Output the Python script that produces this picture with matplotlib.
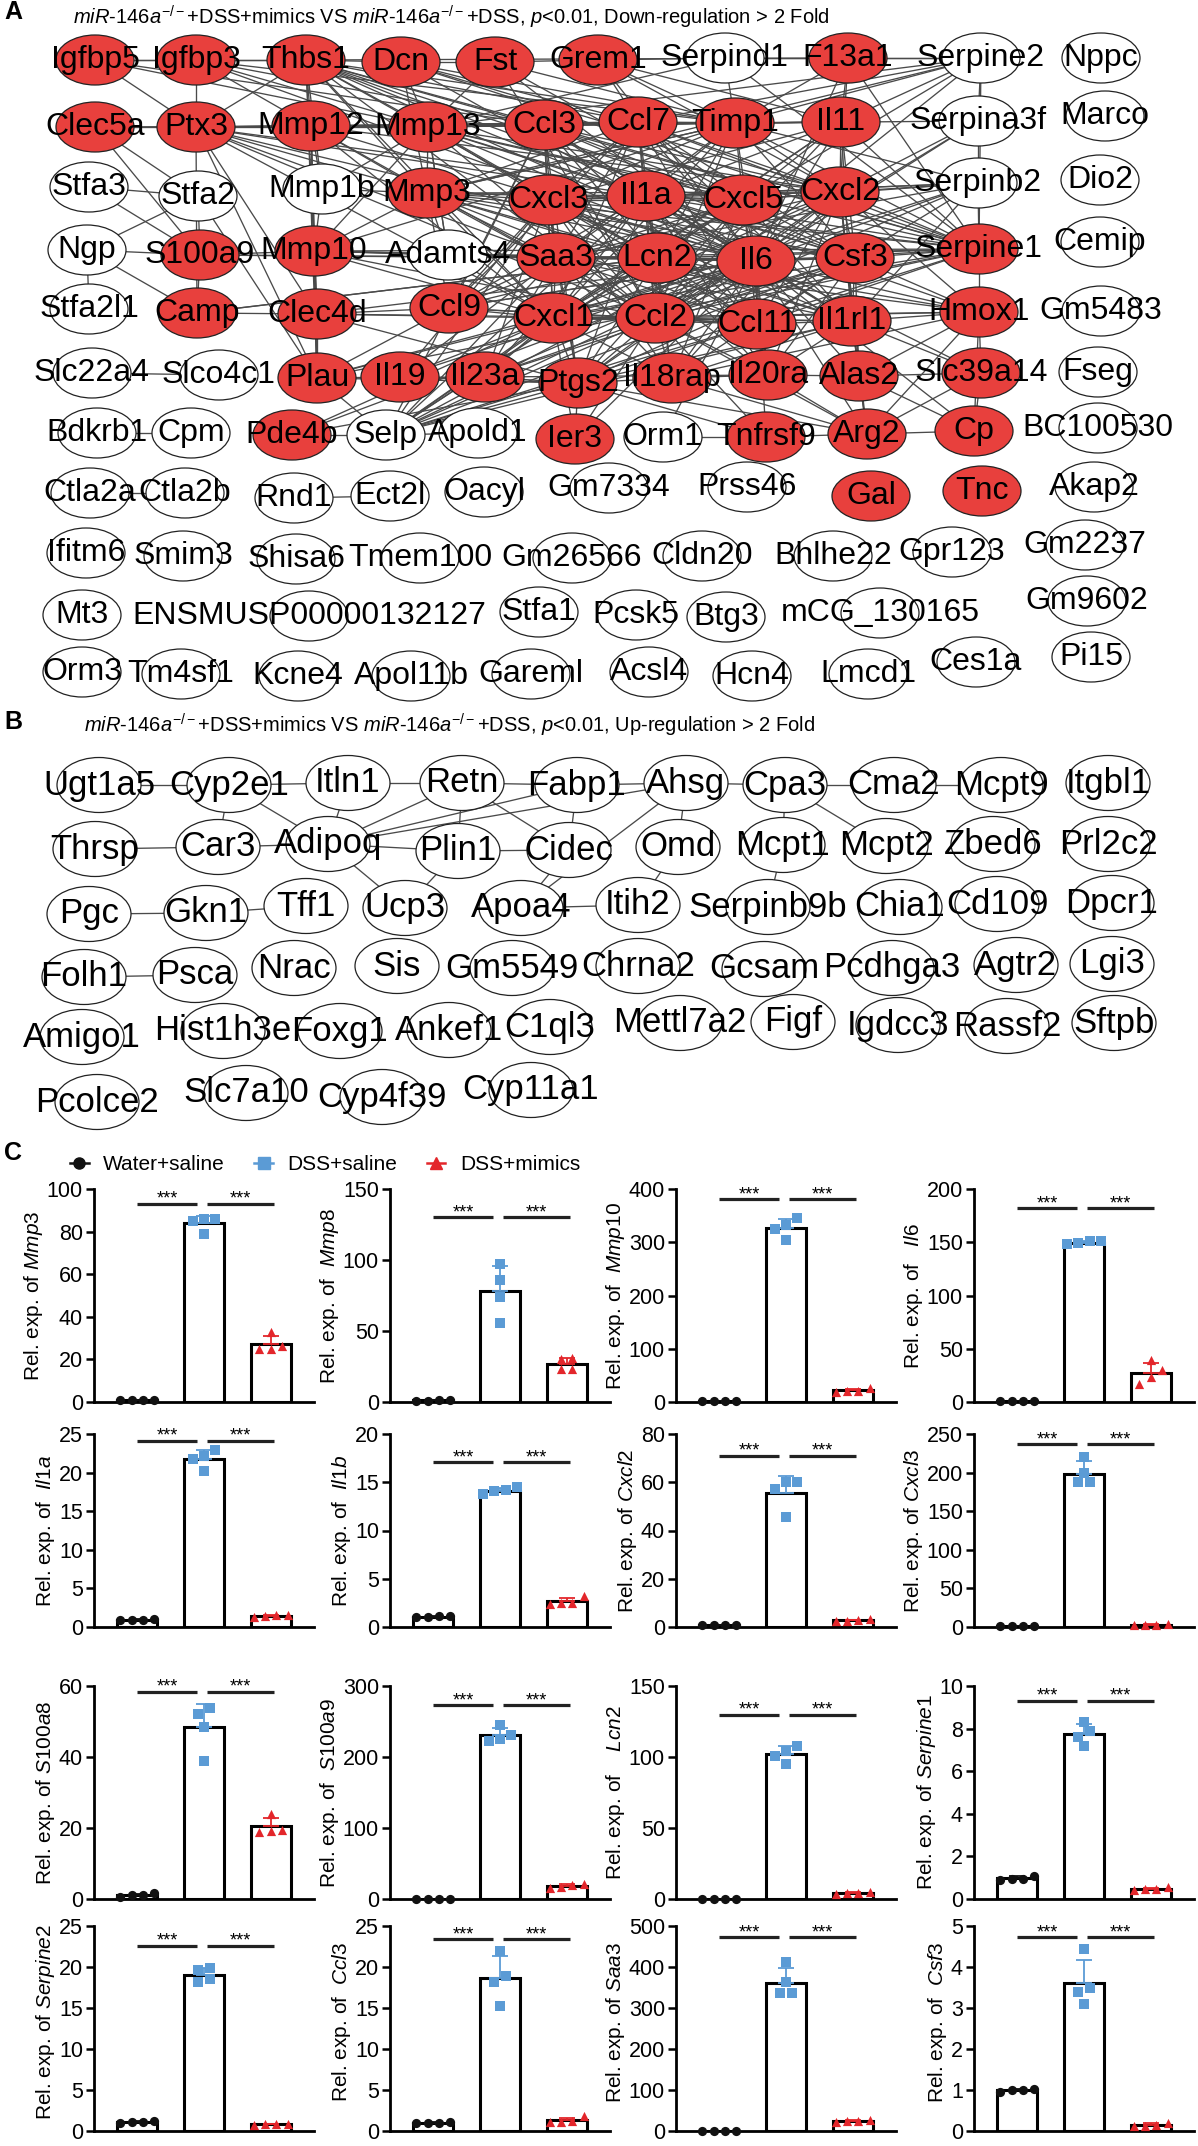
import numpy as np
import matplotlib
matplotlib.use('Agg')
import matplotlib.pyplot as plt
from matplotlib.patches import Ellipse
from matplotlib.lines import Line2D
from matplotlib.collections import LineCollection

plt.rcParams['font.family'] = ['Liberation Sans', 'DejaVu Sans']
plt.rcParams['mathtext.fontset'] = 'custom'
plt.rcParams['mathtext.rm'] = 'Liberation Sans'
plt.rcParams['mathtext.it'] = 'Liberation Sans:italic'
plt.rcParams['mathtext.bf'] = 'Liberation Sans:bold'

W, H = 1198, 2146

# ---------------- panel A network (Cytoscape layout, pixel coords) ----------------
nodes_a = [
    ('Igfbp5', 95, 60), ('Igfbp3', 196, 60), ('Thbs1', 306, 60), ('Dcn', 401, 62), ('Fst', 495, 62),
    ('Grem1', 598, 60), ('Serpind1', 725, 58), ('F13a1', 848, 58), ('Serpine2', 981, 58), ('Nppc', 1101, 58),
    ('Clec5a', 95, 127), ('Ptx3', 196, 127), ('Mmp12', 311, 126), ('Mmp13', 428, 127), ('Ccl3', 544, 125),
    ('Ccl7', 638, 122), ('Timp1', 735, 123), ('Il11', 841, 122), ('Serpina3f', 978, 121), ('Marco', 1105, 116),
    ('Stfa3', 89, 187), ('Stfa2', 198, 196), ('Mmp1b', 322, 189), ('Mmp3', 427, 193), ('Cxcl3', 548, 200),
    ('Il1a', 646, 196), ('Cxcl5', 743, 200), ('Cxcl2', 840, 192), ('Serpinb2', 978, 183), ('Dio2', 1100, 180),
    ('Ngp', 87, 250), ('S100a9', 200, 255), ('Mmp10', 314, 251), ('Adamts4', 448, 255), ('Saa3', 556, 258),
    ('Lcn2', 657, 258), ('Il6', 756, 261), ('Csf3', 855, 258), ('Serpine1', 979, 249), ('Cemip', 1100, 242),
    ('Stfa2l1', 89, 309), ('Camp', 197, 313), ('Clec4d', 317, 314), ('Ccl9', 449, 308), ('Cxcl1', 553, 318),
    ('Ccl2', 655, 318), ('Ccl11', 757, 324), ('Il1rl1', 852, 321), ('Hmox1', 979, 312), ('Gm5483', 1101, 311),
    ('Slc22a4', 92, 373), ('Slco4c1', 219, 375), ('Plau', 317, 378), ('Il19', 400, 377), ('Il23a', 485, 377),
    ('Ptgs2', 578, 383), ('Il18rap', 672, 378), ('Il20ra', 768, 375), ('Alas2', 859, 376), ('Slc39a14', 981, 373),
    ('Fseg', 1098, 372),
    ('Bdkrb1', 97, 433), ('Cpm', 191, 433), ('Pde4b', 292, 435), ('Selp', 386, 435), ('Apold1', 478, 433),
    ('Ier3', 575, 439), ('Orm1', 663, 437), ('Tnfrsf9', 766, 437), ('Arg2', 867, 434), ('Cp', 974, 431),
    ('BC100530', 1098, 428),
    ('Ctla2a', 90, 493), ('Ctla2b', 185, 493), ('Rnd1', 294, 498), ('Ect2l', 390, 496), ('Oacyl', 484, 492),
    ('Gm7334', 609, 488), ('Prss46', 747, 487), ('Gal', 871, 496), ('Tnc', 982, 491), ('Akap2', 1094, 487),
    ('Ifitm6', 86, 553), ('Smim3', 183, 556), ('Shisa6', 296, 559), ('Tmem100', 420, 558), ('Gm26566', 572, 558),
    ('Cldn20', 702, 556), ('Bhlhe22', 833, 556), ('Gpr123', 952, 552), ('Gm2237', 1085, 545),
    ('Mt3', 82, 615), ('ENSMUSP00000132127', 309, 616), ('Stfa1', 539, 612), ('Pcsk5', 636, 615),
    ('Btg3', 726, 617), ('mCG_130165', 880, 613), ('Gm9602', 1087, 601),
    ('Orm3', 82, 672), ('Tm4sf1', 181, 674), ('Kcne4', 298, 676), ('Apol11b', 411, 676), ('Gareml', 531, 674),
    ('Acsl4', 649, 672), ('Hcn4', 752, 676), ('Lmcd1', 868, 674), ('Ces1a', 976, 662), ('Pi15', 1091, 657),
]

red_a = ['Igfbp5', 'Igfbp3', 'Thbs1', 'Dcn', 'Fst', 'Grem1', 'F13a1', 'Clec5a', 'Ptx3', 'Mmp12', 'Mmp13',
         'Ccl3', 'Ccl7', 'Timp1', 'Il11', 'Mmp3', 'Cxcl3', 'Il1a', 'Cxcl5', 'Cxcl2', 'S100a9', 'Mmp10',
         'Saa3', 'Lcn2', 'Il6', 'Csf3', 'Serpine1', 'Camp', 'Clec4d', 'Ccl9', 'Cxcl1', 'Ccl2', 'Ccl11',
         'Il1rl1', 'Hmox1', 'Plau', 'Il19', 'Il23a', 'Ptgs2', 'Il18rap', 'Il20ra', 'Alas2', 'Slc39a14',
         'Pde4b', 'Ier3', 'Tnfrsf9', 'Arg2', 'Cp', 'Gal', 'Tnc']

edges_a_txt = """
Igfbp5: Igfbp3 Thbs1 Mmp13 Ptx3 Ccl3
Igfbp3: Thbs1 Ptx3 Mmp13 Ccl3 Il6 Mmp12 Timp1
Thbs1: Dcn Mmp12 Mmp13 Ptx3 Mmp3 Ccl7 Il6 Serpine1 Timp1 Plau Mmp10 Ccl2 Cxcl1 Ccl3 Mmp1b Csf3 Il1a Cxcl5 F13a1 Lcn2
Dcn: Fst Mmp13 Timp1 Serpine1 Il6 Ccl7 Cxcl2 Mmp3
Fst: Grem1 Il6 Mmp13 Timp1 Ccl2 Cxcl5
Grem1: Serpind1 Timp1 Il6 Ccl7 Il11 Cxcl2
Serpind1: F13a1 Timp1 Mmp13 Serpine2 Serpine1
F13a1: Serpine2 Serpine1 Il6 Timp1 Il11 Cxcl2
Serpine2: Serpina3f Timp1 Il11 Mmp13 Ccl7 Serpine1 Mmp3 Cxcl5 Ccl2
Serpina3f: Serpinb2 Timp1 Il6 Cxcl2 Ccl2
Serpinb2: Serpine1 Cxcl2 Il1a Il6 Cxcl5 Ccl2 Csf3 Cxcl1 Il1rl1 Timp1 Cxcl3 Saa3
Serpine1: Hmox1 Il6 Csf3 Ccl2 Timp1 Mmp3 Plau Cxcl1 Cxcl2 Lcn2 Il1a Ccl7 Mmp10 Mmp13 Il11 Ccl11 Saa3 Selp Cxcl3 Ccl3
Hmox1: Slc39a14 Il6 Ccl2 Il1rl1 Cxcl2 Csf3 Cp Arg2 Lcn2 Alas2 Cxcl1 Il18rap Saa3 Il1a
Slc39a14: Il6 Cp Alas2 Arg2 Il1rl1
Clec5a: Ptx3 Stfa2 Mmp12 S100a9
Ptx3: Mmp12 Il6 Ccl2 Clec4d Cxcl1 Timp1 Mmp13 Ccl7 Ccl3 Cxcl5 Mmp3 Camp Il1a Saa3 Plau
Mmp12: Mmp13 Mmp10 Mmp3 Mmp1b Ccl7 Timp1 Ccl2 Il6 Cxcl1 Ccl3 Cxcl2 Clec4d Plau
Mmp13: Ccl3 Ccl7 Mmp3 Mmp10 Timp1 Il6 Il1a Cxcl5 Cxcl2 Ccl2 Mmp1b Adamts4 Cxcl3 Lcn2 Il11 Csf3
Ccl3: Ccl7 Cxcl3 Il1a Cxcl5 Cxcl2 Ccl2 Il6 Csf3 Cxcl1 Ccl9 Ccl11 Saa3 Lcn2 Timp1 Il11 Il1rl1 Ptgs2
Ccl7: Timp1 Cxcl3 Il1a Cxcl5 Cxcl2 Ccl2 Il6 Csf3 Cxcl1 Ccl11 Saa3 Lcn2 Mmp3 Ccl9 Il11 Il1rl1
Timp1: Il11 Il1a Cxcl5 Cxcl2 Il6 Csf3 Mmp3 Ccl2 Lcn2 Cxcl3 Mmp10 Saa3 Cxcl1
Il11: Cxcl2 Il6 Csf3 Il1a Cxcl5 Ccl2 Il1rl1 Cxcl1 Cxcl3
Stfa3: Stfa2 S100a9
Stfa2: Ngp S100a9 Plau
Mmp1b: Mmp10 Mmp3
Mmp3: Mmp10 Cxcl3 Il1a Cxcl5 Il6 Ccl2 Saa3 Lcn2 Adamts4 Cxcl1 Timp1 Csf3 Cxcl2 Ccl9 Ccl11 Il1rl1
Cxcl3: Il1a Cxcl5 Cxcl2 Saa3 Lcn2 Il6 Csf3 Cxcl1 Ccl2 Ccl11 Ccl9 Il1rl1 Ptgs2 Il23a Il19 Il18rap Il20ra
Il1a: Cxcl5 Cxcl2 Lcn2 Il6 Csf3 Cxcl1 Ccl2 Ccl11 Il1rl1 Saa3 Ptgs2 Il18rap Il23a Il20ra Ccl9
Cxcl5: Cxcl2 Lcn2 Il6 Csf3 Cxcl1 Ccl2 Ccl11 Il1rl1 Saa3 Ptgs2 Il20ra Il18rap Ccl9
Cxcl2: Csf3 Il6 Lcn2 Cxcl1 Ccl2 Ccl11 Il1rl1 Saa3 Ptgs2 Il18rap Alas2 Arg2 Il20ra
Ngp: S100a9 Stfa2l1 Camp
S100a9: Mmp10 Camp Lcn2 Saa3
Mmp10: Adamts4 Saa3 Clec4d Lcn2 Il6 Plau Cxcl1 Ccl2
Adamts4: Saa3 Il6 Cxcl1 Mmp13
Saa3: Lcn2 Il6 Csf3 Cxcl1 Ccl2 Ccl11 Ccl9 Il1rl1 Ptgs2 Il19 Il23a Il18rap
Lcn2: Il6 Csf3 Cxcl1 Ccl2 Ccl11 Il1rl1 Ptgs2 Il18rap Il20ra Camp Ccl9
Il6: Csf3 Cxcl1 Ccl2 Ccl11 Il1rl1 Ptgs2 Il18rap Il20ra Alas2 Il19 Il23a Ier3 Tnfrsf9 Orm1 Arg2 Selp Plau Cp Ccl9
Csf3: Cxcl1 Ccl2 Ccl11 Il1rl1 Ptgs2 Il20ra Il23a Selp Il18rap Alas2
Camp: Clec4d Lcn2
Clec4d: Ccl9 Plau Cxcl1 Ccl2 Il6 Ptgs2
Ccl9: Cxcl1 Ccl2 Ccl11 Il6 Plau
Cxcl1: Ccl2 Ccl11 Il1rl1 Ptgs2 Il18rap Il19 Il23a Selp Plau Ier3
Ccl2: Ccl11 Il1rl1 Ptgs2 Il18rap Il20ra Selp Il23a Tnfrsf9 Ier3 Arg2
Ccl11: Il1rl1 Ptgs2 Selp Il20ra
Il1rl1: Ptgs2 Il18rap Il20ra Alas2 Arg2
Slc22a4: Slco4c1
Plau: Il19 Selp Ptgs2 Il23a
Il19: Il23a Ptgs2
Il23a: Ptgs2 Il20ra
Ptgs2: Il18rap Ier3 Pde4b Selp Tnfrsf9 Arg2
Il18rap: Il20ra Arg2
Il20ra: Alas2 Arg2
Alas2: Arg2 Cp
Pde4b: Selp Il6 Cxcl1
Selp: Apold1 Cxcl2 Il1a Cxcl5 Lcn2 Saa3 Cxcl3 Il11 Il1rl1 Ccl3
Orm1: Tnfrsf9
Tnfrsf9: Arg2
Arg2: Cp
Bdkrb1: Cpm
Ctla2a: Ctla2b
Rnd1: Ect2l
"""

# ---------------- panel B network ----------------
nodes_b = [
    ('Ugt1a5', 99, 785), ('Cyp2e1', 229, 785), ('Itln1', 348, 783), ('Retn', 462, 783), ('Fabp1', 577, 785),
    ('Ahsg', 686, 783), ('Cpa3', 785, 785), ('Cma2', 894, 785), ('Mcpt9', 1001, 785), ('Itgbl1', 1108, 783),
    ('Thrsp', 95, 849), ('Car3', 218, 847), ('Adipoq', 328, 844), ('Plin1', 458, 851), ('Cidec', 569, 850),
    ('Omd', 678, 847), ('Mcpt1', 783, 845), ('Mcpt2', 886, 846), ('Zbed6', 993, 844), ('Prl2c2', 1108, 844),
    ('Pgc', 89, 914), ('Gkn1', 206, 913), ('Tff1', 306, 906), ('Ucp3', 405, 908), ('Apoa4', 521, 908),
    ('Itih2', 638, 905), ('Serpinb9b', 768, 907), ('Chia1', 900, 907), ('Cd109', 997, 904), ('Dpcr1', 1112, 903),
    ('Folh1', 84, 977), ('Psca', 195, 975), ('Nrac', 294, 968), ('Sis', 397, 966), ('Gm5549', 512, 968),
    ('Chrna2', 638, 966), ('Gcsam', 764, 969), ('Pcdhga3', 892, 968), ('Agtr2', 1016, 965), ('Lgi3', 1112, 964),
    ('Amigo1', 82, 1037), ('Hist1h3e', 223, 1031), ('Foxg1', 340, 1031), ('Ankef1', 449, 1030), ('C1ql3', 550, 1027),
    ('Mettl7a2', 680, 1023), ('Figf', 793, 1022), ('Igdcc3', 898, 1025), ('Rassf2', 1007, 1026), ('Sftpb', 1114, 1023),
    ('Pcolce2', 97, 1102), ('Slc7a10', 246, 1093), ('Cyp4f39', 382, 1097), ('Cyp11a1', 531, 1090),
]

edges_b_txt = """
Ugt1a5: Cyp2e1
Cyp2e1: Itln1 Car3 Adipoq
Itln1: Retn Adipoq
Retn: Fabp1 Adipoq Plin1 Cidec
Fabp1: Ahsg Adipoq Cidec
Ahsg: Cpa3 Adipoq Omd Apoa4
Cpa3: Cma2 Mcpt1 Mcpt2
Cma2: Mcpt9
Thrsp: Car3
Car3: Adipoq
Adipoq: Plin1 Ucp3
Plin1: Cidec Ucp3
Cidec: Apoa4
Omd: Itih2
Mcpt1: Serpinb9b
Pgc: Gkn1
Gkn1: Tff1
Apoa4: Itih2
Folh1: Psca
"""

# ---------------- panel C qPCR data ----------------
genes = ['Mmp3', 'Mmp8', 'Mmp10', 'Il6', 'Il1a', 'Il1b', 'Cxcl2', 'Cxcl3',
         'S100a8', 'S100a9', 'Lcn2', 'Serpine1', 'Serpine2', 'Ccl3', 'Saa3', 'Csf3']
label_gap = [1, 2, 2, 3, 2, 2, 1, 1, 1, 2, 4, 1, 1, 2, 1, 2]
ymax = [100, 150, 400, 200, 25, 20, 80, 250, 60, 300, 150, 10, 25, 25, 500, 5]
ystep = [20, 50, 100, 50, 5, 5, 20, 50, 20, 100, 50, 2, 5, 5, 100, 1]

water = [[0.8, 1.0, 1.1, 1.0], [1.0, 1.5, 1.5, 1.0], [1, 1, 1, 1], [1, 1, 1, 1],
         [0.9, 0.9, 1.0, 0.9], [1.0, 1.1, 1.1, 1.0], [0.7, 0.8, 0.8, 0.7], [0.8, 0.9, 0.8, 0.8],
         [0.5, 1.0, 1.6, 1.0], [0.6, 0.7, 0.6, 0.6], [0.2, 0.3, 0.3, 0.2], [1.1, 0.95, 0.9, 0.95],
         [1.1, 1.2, 1.1, 1.0], [1.0, 1.1, 1.0, 1.0], [1, 1, 1, 1], [1.0, 1.0, 0.95, 1.02]]
saline = [[86, 86, 85, 79], [97.3, 85.7, 73.7, 55.6], [346, 332, 324, 305], [148, 151, 149, 151],
          [22.2, 22.9, 21.7, 20.2], [13.75, 14.5, 14.1, 14.2], [60, 57.2, 60, 45.7], [220.7, 199.2, 187.5, 187.5],
          [53.8, 52, 48.5, 39], [245, 231, 223, 225], [108, 104, 101, 95], [8.3, 7.9, 7.6, 7.2],
          [19.9, 19.6, 18.5, 18.2], [22, 18.9, 18.2, 15.3], [411, 364, 336, 336], [4.43, 3.5, 3.4, 3.1]]
mimics = [[25, 33, 26.5, 25], [30, 31, 23, 23.5], [20, 27, 19, 21], [30, 39, 16.5, 23.5],
          [1.3, 1.6, 1.5, 1.4], [2.4, 3.2, 2.5, 2.5], [2.6, 3.2, 2.8, 2.5], [3.0, 3.5, 2.5, 3.0],
          [24, 19.5, 19, 19.2], [21, 17, 15, 20], [4.5, 5, 3.5, 4], [0.56, 0.45, 0.4, 0.45],
          [0.8, 0.9, 0.7, 0.8], [1.2, 1.8, 1.1, 1.1], [25, 28, 22, 24], [0.15, 0.2, 0.12, 0.12]]
sig_y = [93, 130, 381, 182, 24.1, 17.1, 71, 237, 58.4, 273, 129.6, 9.3, 22.6, 23.4, 472, 4.72]

groups = ['Water+saline', 'DSS+saline', 'DSS+mimics']
g_colors = ['#111111', '#5B9BD5', '#E3262B']
g_markers = ['o', 's', '^']

# ---------------- figure ----------------
fig = plt.figure(figsize=(W / 100, H / 100), dpi=100)
ov = fig.add_axes([0, 0, 1, 1])
ov.set_xlim(0, W)
ov.set_ylim(H, 0)
ov.axis('off')


def parse_edges(txt):
    out = []
    for line in txt.strip().splitlines():
        a, rest = line.split(':')
        for b in rest.split():
            out.append((a.strip(), b))
    return out


def draw_network(nodes, edges, red, ew, eh, fs):
    pos = {n: (x, y) for n, x, y in nodes}
    segs = [[pos[a], pos[b]] for a, b in edges]
    ov.add_collection(LineCollection(segs, colors='#4a4a4a', linewidths=0.95, zorder=1))
    for n, x, y in nodes:
        fc = '#E8403D' if n in red else 'white'
        ov.add_patch(Ellipse((x, y), ew, eh, facecolor=fc, edgecolor='#222222', lw=0.9, zorder=2))
        ov.text(x, y, n, fontsize=fs, ha='center', va='center', color='black', zorder=3)


draw_network(nodes_a, parse_edges(edges_a_txt), set(red_a), 78, 50, 23)
draw_network(nodes_b, parse_edges(edges_b_txt), set(), 84, 55, 25)

mir = r'$\mathit{miR}$-$\mathit{146a}^{-/-}$'
ov.text(4, 12, 'A', fontsize=18, fontweight='bold', ha='left', va='center')
ov.text(73, 17, mir + '+DSS+mimics VS ' + mir + r'+DSS, $\mathit{p}$<0.01, Down-regulation > 2 Fold',
        fontsize=14.5, ha='left', va='center')
ov.text(4, 722, 'B', fontsize=18, fontweight='bold', ha='left', va='center')
ov.text(84, 725, mir + '+DSS+mimics VS ' + mir + r'+DSS, $\mathit{p}$<0.01, Up-regulation > 2 Fold',
        fontsize=14.5, ha='left', va='center')
ov.text(4, 1153, 'C', fontsize=18, fontweight='bold', ha='left', va='center')

handles = [Line2D([], [], marker=m, color=c, lw=1.8, ms=8) for m, c in zip(g_markers, g_colors)]
fig.legend(handles, groups, loc='center left', bbox_to_anchor=(70 / W, 1 - 1165 / H), ncol=3,
           frameon=False, fontsize=15, handlelength=0.9, handletextpad=0.7, columnspacing=1.4,
           borderaxespad=0, borderpad=0)

# panel C grid geometry (pixels)
col_left = [94, 390, 676, 974]
row_top = [1189, 1434, 1686, 1926]
row_bot = [1402, 1627, 1899, 2131]
ax_w = 220


def swarm(vals, top, px_h):
    # spread points that would overlap, like Prism does
    order = np.argsort(vals)
    py = np.array(vals) / top * px_h
    offs = np.zeros(len(vals))
    cluster = [order[0]]
    clusters = []
    for i in order[1:]:
        if py[i] - py[cluster[-1]] < 8.5:
            cluster.append(i)
        else:
            clusters.append(cluster)
            cluster = [i]
    clusters.append(cluster)
    for cl in clusters:
        n = len(cl)
        for k, i in enumerate(cl):
            offs[i] = (k - (n - 1) / 2) * 0.17
    return offs


for k, g in enumerate(genes):
    r, c = divmod(k, 4)
    top, bot = row_top[r], row_bot[r]
    ax = fig.add_axes([col_left[c] / W, 1 - bot / H, ax_w / W, (bot - top) / H])
    ax.set_facecolor('none')
    data = [water[k], saline[k], mimics[k]]
    for i, vals in enumerate(data):
        vals = np.array(vals)
        m, sd = vals.mean(), vals.std(ddof=1)
        ax.bar(i, m, width=0.6, color='white', edgecolor='black', lw=2.2, zorder=1)
        ax.errorbar(i, m, yerr=[[0], [sd]], fmt='none', ecolor=g_colors[i], elinewidth=1.3,
                    capsize=6, capthick=1.3, zorder=2)
        xs = i + swarm(vals, ymax[k], bot - top)
        ax.scatter(xs, vals, marker=g_markers[i], s=44, color=g_colors[i], linewidths=0,
                   zorder=3, clip_on=False)
    sy = sig_y[k]
    for x0, x1 in [(0.0, 0.9), (1.05, 2.05)]:
        ax.plot([x0, x1], [sy, sy], color='#222222', lw=2.3, solid_capstyle='butt', clip_on=False)
        ax.text((x0 + x1) / 2, sy, '***', fontsize=13, ha='center', va='baseline')
    ax.set_xlim(-0.65, 2.65)
    ax.set_ylim(0, ymax[k])
    ax.set_yticks(np.arange(0, ymax[k] + ystep[k] / 2, ystep[k]))
    ax.set_xticks([])
    for s in ['top', 'right']:
        ax.spines[s].set_visible(False)
    for s in ['left', 'bottom']:
        ax.spines[s].set_linewidth(2.0)
    ax.tick_params(axis='y', direction='out', length=6, width=1.8, labelsize=15.5, pad=2)
    ax.set_ylabel('Rel. exp. of' + ' ' * label_gap[k] + r'$\mathit{' + g + '}$', fontsize=15, labelpad=1)
    if r == 3:
        # keep the long bottom-row labels inside the figure
        ax.yaxis.label.set_y(0.53)

fig.savefig('out.png', dpi=100)
